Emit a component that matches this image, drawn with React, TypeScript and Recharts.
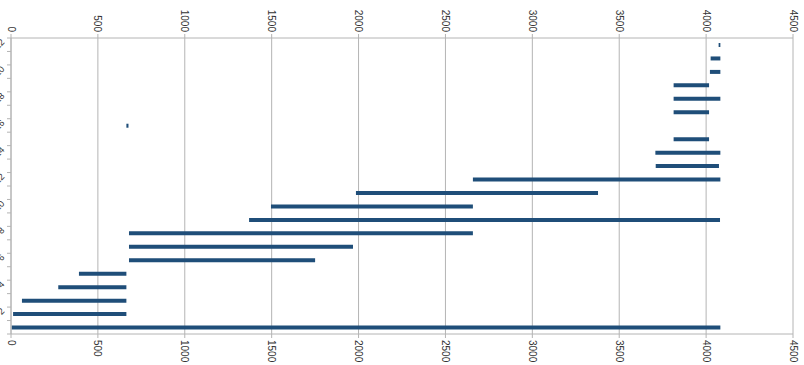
import { ComposedChart, Bar, Line, XAxis, YAxis, CartesianGrid } from 'recharts';

// one row per task, top to bottom
const taskNames = [
  'Task 22', 'Task 21', 'Task 20', 'Task 19', 'Task 18', 'Task 17', 'Task 16', 'Task 15',
  'Task 14', 'Task 13', 'Task 12', 'Task 11', 'Task 10', 'Task 9', 'Task 8', 'Task 7',
  'Task 6', 'Task 5', 'Task 4', 'Task 3', 'Task 2', 'Task 1',
];
const startValues = [
  4072, 4026, 4022, 3813, 3813, 3813, 664, 3813, 3708, 3710, 2658,
  1985, 1496, 1370, 679, 679, 679, 391, 272, 63, 12, 4,
];
const endValues = [
  4082, 4082, 4082, 4017, 4082, 4017, 676, 4017, 4082, 4074, 4082,
  3378, 2658, 4080, 2658, 1968, 1750, 664, 664, 664, 664, 4082,
];
const xTicks = [0, 500, 1000, 1500, 2000, 2500, 3000, 3500, 4000, 4500];

const W = 804;
const H = 365;
const TOP = 38;
const BOTTOM = 31;
const LEFT = 11;
const RIGHT = 11;
const GRID = '#b4b4b4';
const BAR = '#1f4e79';
const FONT = '"Liberation Sans", Arial, sans-serif';

const chartData = taskNames.map((name, i) => ({
  name,
  start: startValues[i],
  length: endValues[i] - startValues[i],
  end: endValues[i],
}));

const band = (H - TOP - BOTTOM) / taskNames.length;

function BottomTick({ x, y, payload }: any) {
  return (
    <text
      transform={`translate(${x},${y}) rotate(90)`}
      textAnchor="start"
      dominantBaseline="central"
      fontSize={10}
      fontFamily={FONT}
      fill="#333"
    >
      {payload.value}
    </text>
  );
}

function TopTick({ x, y, payload }: any) {
  return (
    <text
      transform={`translate(${x},${y}) rotate(90)`}
      textAnchor="end"
      dominantBaseline="central"
      fontSize={10}
      fontFamily={FONT}
      fill="#333"
    >
      {payload.value}
    </text>
  );
}

function LeftTick({ x, y, payload, index }: any) {
  return (
    <g>
      <line x1={x - 4} x2={x} y1={y + band / 2} y2={y + band / 2} stroke={GRID} />
      {index === 0 && <line x1={x - 4} x2={x} y1={y - band / 2} y2={y - band / 2} stroke={GRID} />}
      {index % 2 === 0 && (
        <text
          x={x - 6}
          y={y - 2}
          transform={`rotate(-45, ${x - 6}, ${y - 2})`}
          textAnchor="end"
          fontSize={9}
          fontFamily={FONT}
          fill="#333"
        >
          {payload.value}
        </text>
      )}
    </g>
  );
}

export default function App() {
  return (
    <div style={{ position: 'absolute', left: 0, top: 0, background: '#fff' }}>
      <ComposedChart
        width={W}
        height={H}
        data={chartData}
        layout="vertical"
        margin={{ top: 0, right: RIGHT, bottom: 0, left: 0 }}
        barSize={4}
      >
        <CartesianGrid horizontal={false} stroke={GRID} />
        <XAxis
          type="number"
          domain={[0, 4500]}
          ticks={xTicks}
          height={BOTTOM}
          tick={<BottomTick />}
          tickSize={4}
          tickMargin={2}
          stroke={GRID}
          interval={0}
        />
        <XAxis
          xAxisId="top"
          orientation="top"
          type="number"
          domain={[0, 4500]}
          ticks={xTicks}
          height={TOP}
          tick={<TopTick />}
          tickSize={4}
          tickMargin={2}
          stroke={GRID}
          interval={0}
        />
        <YAxis
          type="category"
          dataKey="name"
          width={LEFT}
          tick={<LeftTick />}
          tickLine={false}
          tickSize={0}
          tickMargin={0}
          stroke={GRID}
          interval={0}
        />
        <Bar dataKey="start" stackId="a" fill="transparent" isAnimationActive={false} />
        <Bar dataKey="length" stackId="a" fill={BAR} isAnimationActive={false} />
        <Line
          xAxisId="top"
          dataKey="end"
          stroke="none"
          dot={false}
          activeDot={false}
          isAnimationActive={false}
        />
      </ComposedChart>
    </div>
  );
}
